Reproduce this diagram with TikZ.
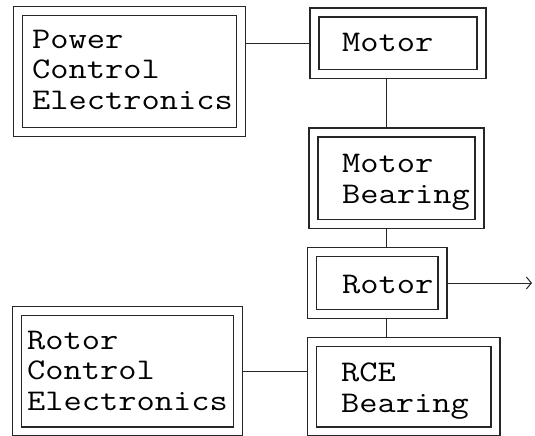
\documentclass[tikz,border=0pt]{standalone}
\usepackage{fontspec}
\usepackage{graphicx}
\usetikzlibrary{arrows.meta,backgrounds}
\newcommand\blktxt[1]{\scalebox{1.18}[1]{\begin{tabular}[b]{@{}l@{}}#1\end{tabular}}}
\begin{document}
\begin{tikzpicture}[x=1pt,y=-1pt,
  blockbox/.style={draw=black!85,line width=1.3pt,double=white,double distance=7.6pt,
    fill=white,inner sep=0pt,outer sep=0pt},
  blocktext/.style={anchor=base west,inner sep=0pt,
    font=\ttfamily\fontsize{30}{30.5}\selectfont,text=black},
  link/.style={draw=black!85,line width=1pt}]
\useasboundingbox (0,0) rectangle (535,436);
% boxes
\node[blockbox,minimum width=223pt,minimum height=121pt] (pce) at (129.5,71.5) {};
\node[blockbox,minimum width=167pt,minimum height=61.5pt] (motor) at (398,43.25) {};
\node[blockbox,minimum width=166pt,minimum height=91.5pt] (mb) at (396.5,178.25) {};
\node[blockbox,minimum width=130.5pt,minimum height=62pt] (rotor) at (377.25,283) {};
\node[blockbox,minimum width=221pt,minimum height=120.5pt] (rce) at (127.5,371.25) {};
\node[blockbox,minimum width=183.5pt,minimum height=89.5pt] (rceb) at (403.75,386.75) {};
% texts (anchored at the baseline of the last line)
\node[blocktext] (tpce) at (32,109) {\blktxt{Power\\Control\\Electronics}};
\node[blocktext] (tmotor) at (342,52) {\blktxt{Motor}};
\node[blocktext] (tmb) at (342,203) {\blktxt{Motor\\Bearing}};
\node[blocktext] (trotor) at (342,293) {\blktxt{Rotor}};
\node[blocktext] (trce) at (27,410) {\blktxt{Rotor\\Control\\Electronics}};
\node[blocktext] (trceb) at (341,412) {\blktxt{RCE\\Bearing}};
% connectors
\coordinate (spine) at (386,0);
\coordinate (out) at (532,283);
\begin{scope}[on background layer]
\fill[white] (0,0) rectangle (535,436);
\draw[link] (motor.west) -- (motor.west -| pce.east);
\draw[link] (motor.south -| spine) -- (mb.north -| spine);
\draw[link] (mb.south -| spine) -- (rotor.north -| spine);
\draw[link] (rotor.south -| spine) -- (rceb.north -| spine);
\draw[link] (rce.east) -- (rce.east -| rceb.west);
\end{scope}
\draw[link,-{Straight Barb[length=5pt,width=12pt]}] ([xshift=4.5pt]rotor.east) -- (out);
\end{tikzpicture}
\end{document}
